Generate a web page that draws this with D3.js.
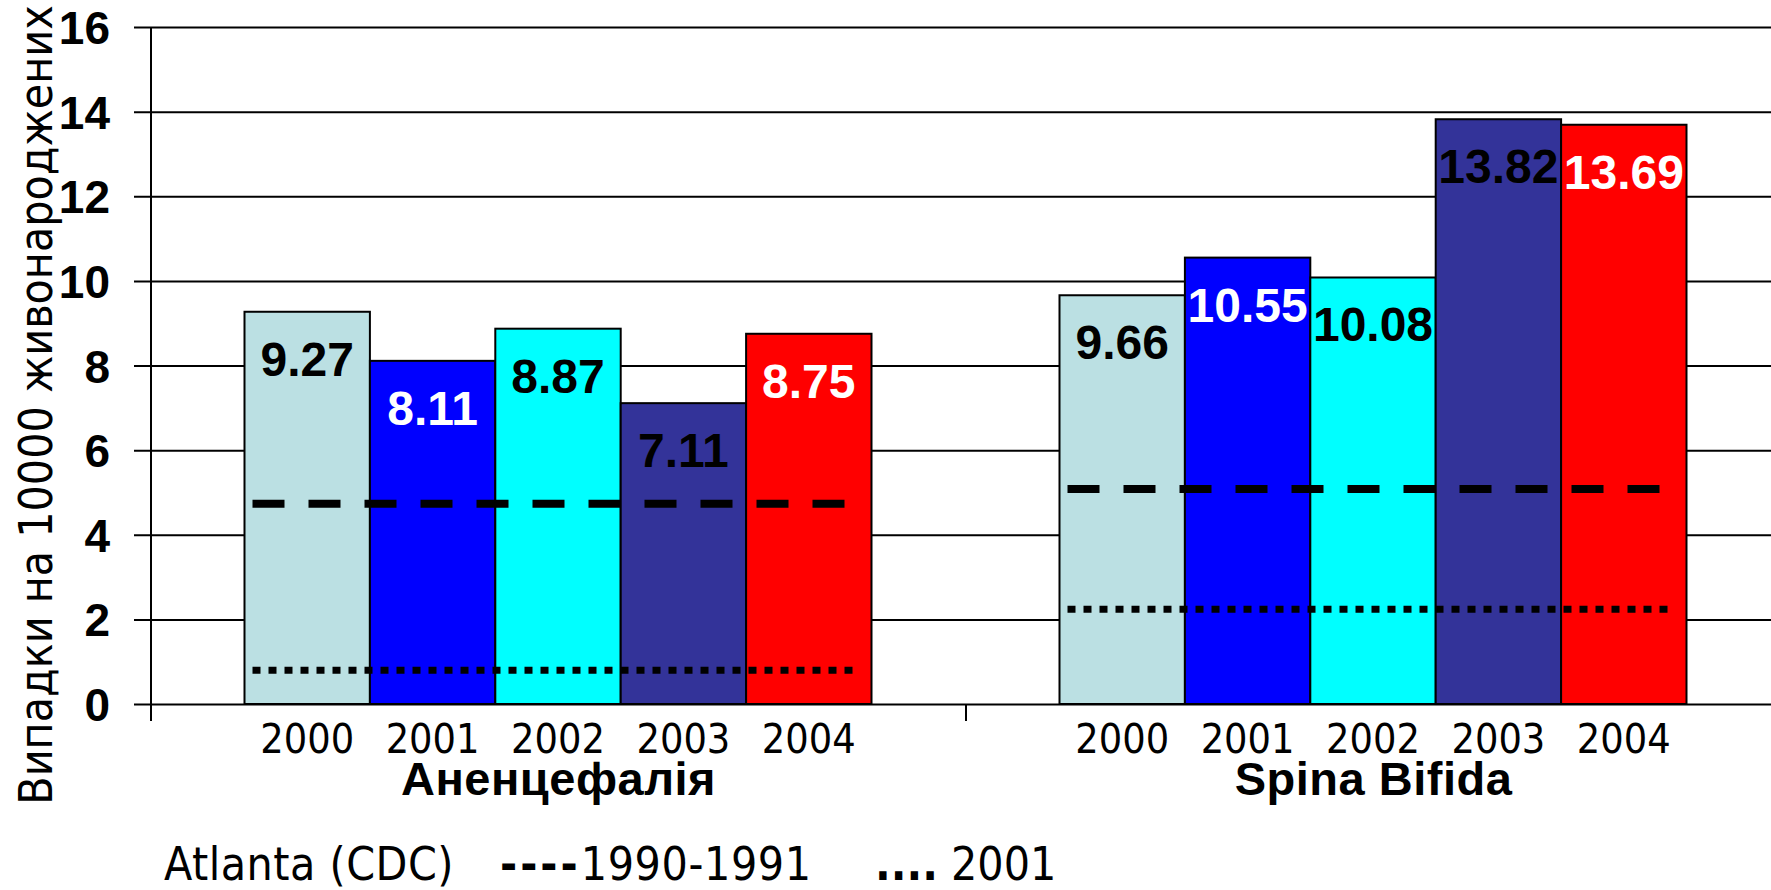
<!DOCTYPE html>
<html>
<head>
<meta charset="utf-8">
<script src="https://cdn.jsdelivr.net/npm/d3@7"></script>
<style>
  html, body { margin: 0; padding: 0; background: #fff; }
  svg { display: block; }
  .cond { font-family: "DejaVu Sans Condensed", "DejaVu Sans", sans-serif; font-stretch: condensed; }
  .arialb { font-family: "Liberation Sans", Arial, sans-serif; font-weight: bold; }
</style>
</head>
<body>
<svg id="chart" width="1771" height="890"></svg>
<script>
// ---- data ----
const categories = ["Аненцефалія", "Spina Bifida"];
const years = ["2000", "2001", "2002", "2003", "2004"];
const anencephaly = [9.27, 8.11, 8.87, 7.11, 8.75];
const spinaBifida = [9.66, 10.55, 10.08, 13.82, 13.69];
const ref1990 = [4.73, 5.08];   // Atlanta (CDC) 1990-1991
const ref2001 = [0.80, 2.24];   // Atlanta (CDC) 2001
const yTicks = [0, 2, 4, 6, 8, 10, 12, 14, 16];
const yTitle = "Випадки на 10000 живонароджених";
const legendLabel = "Atlanta (CDC)";
const legendDash = "----";
const legendDashLabel = "1990-1991";
const legendDot = "....";
const legendDotLabel = " 2001";

// ---- styles ----
const barColors = ["#BBE0E3", "#0000FF", "#00FFFF", "#333399", "#FF0000"];
const labelColors = ["#000", "#fff", "#000", "#000", "#fff"];

const svg = d3.select("#chart");
const series = [anencephaly, spinaBifida];

const y = d3.scaleLinear().domain([0, 16]).range([704, 27]);
const x0 = d3.scaleBand().domain(categories).range([151, 1781]).padding(0);
const x1 = d3.scaleBand().domain(years).range([93.5, 720.5]).padding(0);
const color = d3.scaleOrdinal().domain(years).range(barColors);
const lcolor = d3.scaleOrdinal().domain(years).range(labelColors);

// gridlines + y ticks
const yAxis = d3.axisLeft(y).tickValues(yTicks).tickSize(-(1781 - 134)).tickFormat(d3.format("d"));
const gy = svg.append("g").attr("transform", "translate(134,0)").call(yAxis);
gy.select(".domain").remove();
gy.selectAll(".tick line").attr("stroke", "#000").attr("stroke-width", 2).attr("x1", 0).attr("x2", 1781 - 134);
gy.selectAll(".tick text")
  .attr("class", "arialb")
  .attr("x", -24)
  .attr("dy", "0.36em")
  .attr("font-size", 46)
  .attr("fill", "#000");

// y axis line
svg.append("line")
  .attr("x1", 151).attr("x2", 151)
  .attr("y1", y(16)).attr("y2", y(0) + 17)
  .attr("stroke", "#000").attr("stroke-width", 2);

// category separator ticks
svg.append("g").selectAll("line")
  .data(categories.slice(1))
  .join("line")
  .attr("x1", d => x0(d)).attr("x2", d => x0(d))
  .attr("y1", y(0)).attr("y2", y(0) + 17)
  .attr("stroke", "#000").attr("stroke-width", 2);

// bars
const groups = svg.append("g").selectAll("g")
  .data(categories)
  .join("g")
  .attr("transform", d => `translate(${x0(d)},0)`);

groups.selectAll("rect")
  .data((d, i) => years.map((yr, j) => ({ yr, v: series[i][j] })))
  .join("rect")
  .attr("x", d => x1(d.yr))
  .attr("width", x1.bandwidth())
  .attr("y", d => y(d.v))
  .attr("height", d => y(0) - y(d.v))
  .attr("fill", d => color(d.yr))
  .attr("stroke", "#000")
  .attr("stroke-width", 2);

// reference lines
const refStart = x1.range()[0] + 8;
const refEnd = x1.range()[1] - 19;
groups.append("line")
  .attr("x1", refStart).attr("x2", refEnd)
  .attr("y1", (d, i) => y(ref1990[i])).attr("y2", (d, i) => y(ref1990[i]))
  .attr("stroke", "#000").attr("stroke-width", 8)
  .attr("stroke-dasharray", "32,24");
groups.append("line")
  .attr("x1", refStart).attr("x2", refEnd)
  .attr("y1", (d, i) => y(ref2001[i])).attr("y2", (d, i) => y(ref2001[i]))
  .attr("stroke", "#000").attr("stroke-width", 7)
  .attr("stroke-dasharray", "8,8");

// value labels
groups.selectAll("text.val")
  .data((d, i) => years.map((yr, j) => ({ yr, v: series[i][j] })))
  .join("text")
  .attr("class", "val arialb")
  .attr("x", d => x1(d.yr) + x1.bandwidth() / 2)
  .attr("y", d => y(d.v) + 64)
  .attr("text-anchor", "middle")
  .attr("font-size", 48)
  .attr("fill", d => lcolor(d.yr))
  .text(d => d.v.toFixed(2));

// year tick labels
groups.selectAll("text.yr")
  .data(years)
  .join("text")
  .attr("class", "yr cond")
  .attr("x", d => x1(d) + x1.bandwidth() / 2)
  .attr("y", 753)
  .attr("text-anchor", "middle")
  .attr("font-size", 41)
  .attr("fill", "#000")
  .text(d => d);

// category labels
groups.append("text")
  .attr("class", "arialb")
  .attr("x", x0.bandwidth() / 2)
  .attr("y", 795)
  .attr("text-anchor", "middle")
  .attr("font-size", 47)
  .attr("letter-spacing", 0.5)
  .attr("fill", "#000")
  .text(d => d);

// y title
svg.append("text")
  .attr("class", "cond")
  .attr("transform", "translate(52,405) rotate(-90)")
  .attr("text-anchor", "middle")
  .attr("font-size", 46)
  .attr("fill", "#000")
  .text(yTitle);

// legend
const leg = svg.append("g").attr("class", "cond").attr("font-size", 46).attr("fill", "#000");
leg.append("text").attr("x", 164).attr("y", 880).attr("letter-spacing", 0.5).text(legendLabel);
const t2 = leg.append("text").attr("x", 500).attr("y", 880);
t2.append("tspan").attr("font-weight", "bold").attr("letter-spacing", 3).text(legendDash);
t2.append("tspan").attr("letter-spacing", 0.6).text(legendDashLabel);
const t3 = leg.append("text").attr("x", 875).attr("y", 880);
t3.append("tspan").attr("font-weight", "bold").text(legendDot);
t3.append("tspan").text(legendDotLabel);
</script>
</body>
</html>
